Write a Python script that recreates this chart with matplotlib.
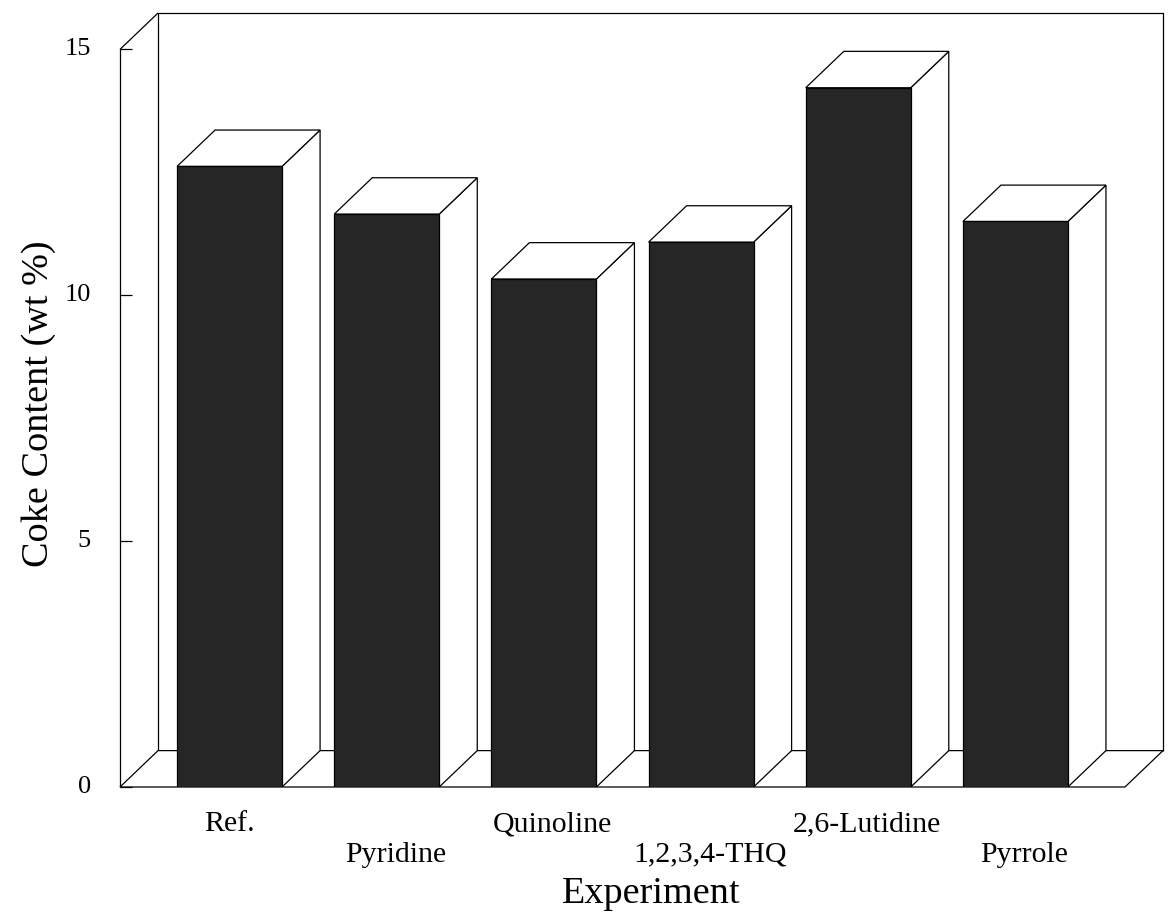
import matplotlib
matplotlib.use("Agg")
import matplotlib.pyplot as plt
from matplotlib.patches import Polygon

plt.rcParams['font.family'] = ['Liberation Serif', 'DejaVu Serif']

# ---- data ----
categories = ["Ref.", "Pyridine", "Quinoline", "1,2,3,4-THQ", "2,6-Lutidine", "Pyrrole"]
coke_content = [12.62, 11.65, 10.33, 11.08, 14.22, 11.50]
y_ticks = [0, 5, 10, 15]
y_label = "Coke Content (wt %)"
x_label = "Experiment"

# ---- geometry (style) ----
bar_w = 0.668
ddx, ddy = 0.242, 0.74          # 3-D depth offsets in data units
x_lo, x_hi = -0.697, 5.697      # front floor edge
y_top = 15
lw = 0.9
front_color = '#262626'

fig = plt.figure(figsize=(11.69, 9.21), dpi=100)
W, H = 1169, 921
ax = fig.add_axes([120 / W, (H - 787) / H, (1163 - 120) / W, (787 - 13) / H])
ax.set_xlim(x_lo, x_hi + ddx)
ax.set_ylim(0, y_top + ddy)
ax.axis('off')

def line(xs, ys, z=1):
    ax.plot(xs, ys, color='black', lw=lw, zorder=z, clip_on=False, solid_capstyle='butt')

# back wall outline
line([x_lo + ddx, x_lo + ddx, x_hi + ddx, x_hi + ddx], [ddy, y_top + ddy, y_top + ddy, ddy])
# left wall
line([x_lo, x_lo], [0, y_top])
line([x_lo, x_lo + ddx], [y_top, y_top + ddy])
# floor
ax.add_patch(Polygon([(x_lo, 0), (x_hi, 0), (x_hi + ddx, ddy), (x_lo + ddx, ddy)],
                     closed=True, facecolor='white', edgecolor='black', lw=lw, zorder=1,
                     clip_on=False))

# ticks and tick labels
for t in y_ticks:
    line([x_lo, x_lo + 0.076], [t, t], z=2)
    ax.text(x_lo - 0.185, t, str(t), ha='right', va='center', fontsize=19, zorder=3)

# bars
for i, v in enumerate(coke_content):
    x0 = i - bar_w / 2
    x1 = i + bar_w / 2
    side = Polygon([(x1, 0), (x1 + ddx, ddy), (x1 + ddx, v + ddy), (x1, v)], closed=True,
                   facecolor='white', edgecolor='black', lw=lw, zorder=4, joinstyle='miter')
    top = Polygon([(x0, v), (x0 + ddx, v + ddy), (x1 + ddx, v + ddy), (x1, v)], closed=True,
                  facecolor='white', edgecolor='black', lw=lw, zorder=4, joinstyle='miter')
    front = Polygon([(x0, 0), (x1, 0), (x1, v), (x0, v)], closed=True,
                    facecolor=front_color, edgecolor='black', lw=lw, zorder=5)
    ax.add_patch(side)
    ax.add_patch(top)
    ax.add_patch(front)

# category labels (staggered in two rows)
for i, name in enumerate(categories):
    yy = -0.9 if i % 2 == 0 else -1.52
    dx = 0.0 if i == 0 else 0.055
    ax.text(i + dx, yy, name, ha='center', va='baseline', fontsize=21.5, clip_on=False)

ax.text(2.68, -2.35, x_label, ha='center', va='baseline', fontsize=27.5, clip_on=False)
ax.text(x_lo - 0.52, 7.8, y_label, ha='center', va='center', rotation=90, fontsize=27.5,
        clip_on=False)

fig.savefig("out.png", dpi=100)
